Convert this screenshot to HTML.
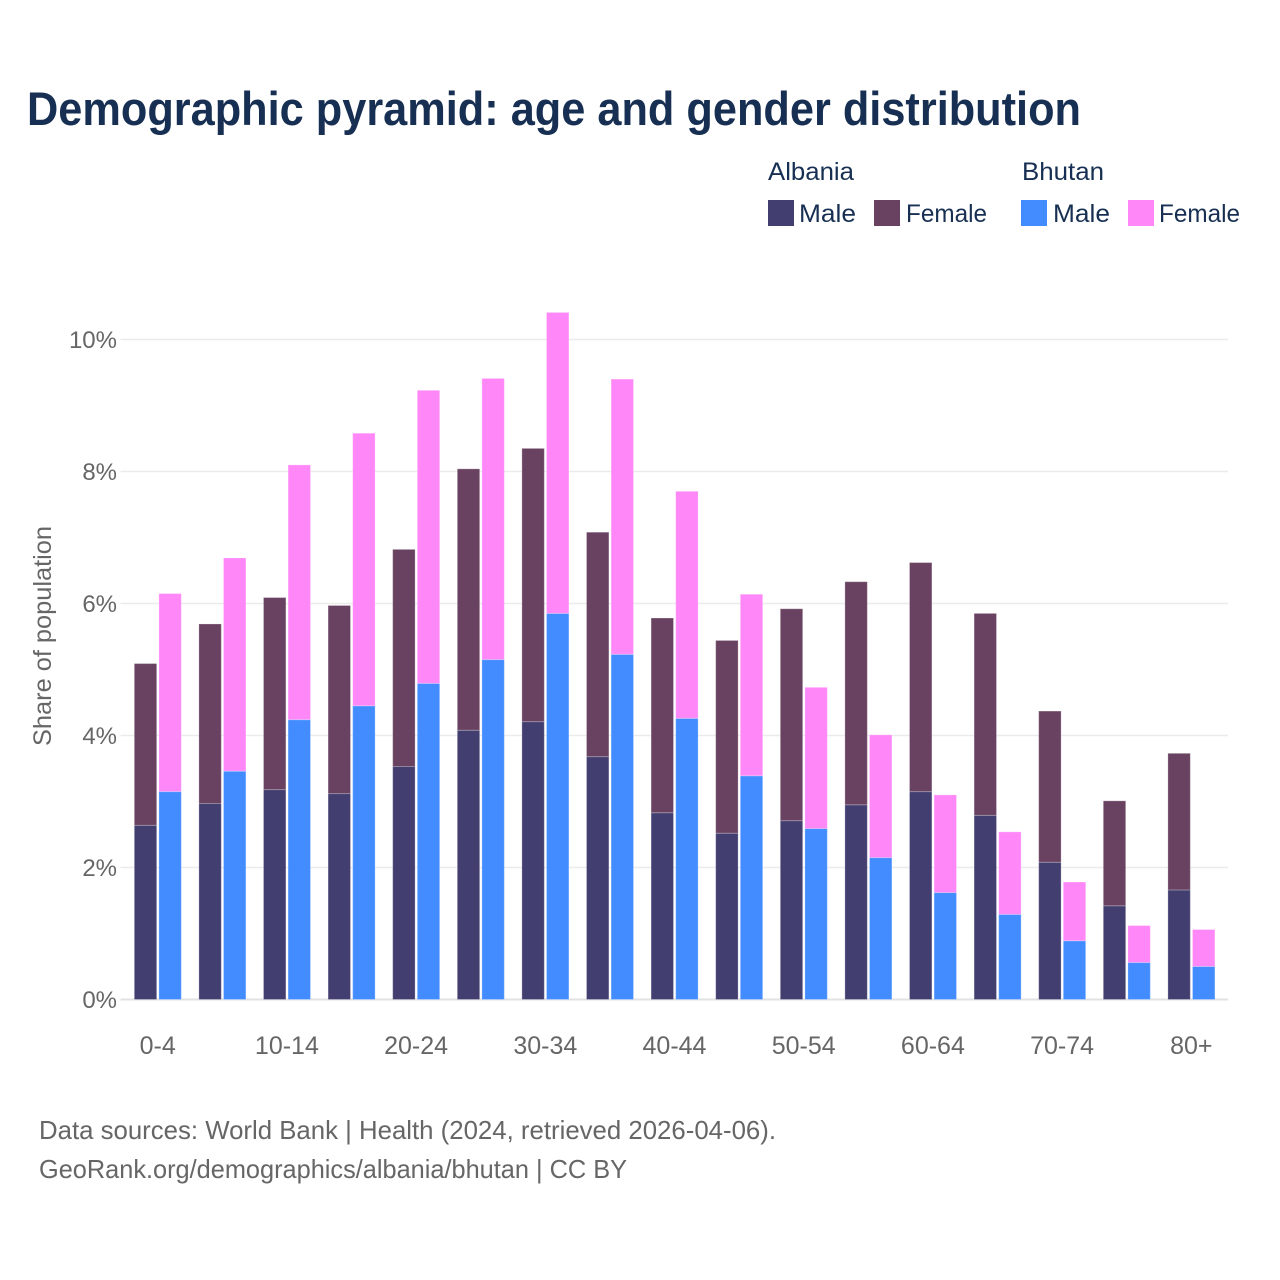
<!DOCTYPE html>
<html lang="en">
<head>
<meta charset="utf-8">
<title>Demographic pyramid: age and gender distribution</title>
<style>
html,body{margin:0;padding:0;background:#fff;width:1280px;height:1280px;overflow:hidden}
svg{display:block}
text{font-family:"Liberation Sans",sans-serif}
.dark{fill:#172f52}
.gray{fill:#666666}
</style>
</head>
<body>
<svg id="chart" xmlns="http://www.w3.org/2000/svg" width="1280" height="1280" viewBox="0 0 1280 1280">
  <rect x="0" y="0" width="1280" height="1280" fill="#ffffff"/>
  <text class="dark" x="27" y="125" font-size="47" font-weight="700" textLength="1054" lengthAdjust="spacingAndGlyphs">Demographic pyramid: age and gender distribution</text>

  <g>
    <text class="dark" x="768" y="180" font-size="25" textLength="86" lengthAdjust="spacingAndGlyphs">Albania</text>
    <text class="dark" x="1022" y="180" font-size="25" textLength="82" lengthAdjust="spacingAndGlyphs">Bhutan</text>
    <rect x="768" y="200" width="26" height="26" fill="#423e70"/>
    <text class="dark" x="799" y="222" font-size="25" textLength="57" lengthAdjust="spacingAndGlyphs">Male</text>
    <rect x="874" y="200" width="26" height="26" fill="#684260"/>
    <text class="dark" x="906" y="222" font-size="25" textLength="81" lengthAdjust="spacingAndGlyphs">Female</text>
    <rect x="1021" y="200" width="26" height="26" fill="#428cff"/>
    <text class="dark" x="1053" y="222" font-size="25" textLength="57" lengthAdjust="spacingAndGlyphs">Male</text>
    <rect x="1128" y="200" width="26" height="26" fill="#ff87f7"/>
    <text class="dark" x="1159" y="222" font-size="25" textLength="81" lengthAdjust="spacingAndGlyphs">Female</text>
  </g>

  <g id="grid"></g>
  <g id="yticks"></g>
  <g id="bars"></g>
  <g id="xticks"></g>

  <text class="gray" transform="translate(51,746) rotate(-90)" x="0" y="0" font-size="25" textLength="220" lengthAdjust="spacingAndGlyphs">Share of population</text>

  <text class="gray" x="39" y="1139" font-size="26" textLength="737" lengthAdjust="spacingAndGlyphs">Data sources: World Bank | Health (2024, retrieved 2026-04-06).</text>
  <text class="gray" x="39" y="1178" font-size="26" textLength="588" lengthAdjust="spacingAndGlyphs">GeoRank.org/demographics/albania/bhutan | CC BY</text>
</svg>
<script>
var categories = ["0-4","5-9","10-14","15-19","20-24","25-29","30-34","35-39","40-44","45-49","50-54","55-59","60-64","65-69","70-74","75-79","80+"];
var albaniaMale = [2.64,2.97,3.18,3.12,3.53,4.08,4.21,3.68,2.83,2.52,2.71,2.95,3.15,2.79,2.08,1.42,1.66];
var albaniaFemale = [2.45,2.72,2.91,2.85,3.29,3.96,4.14,3.40,2.95,2.92,3.21,3.38,3.47,3.06,2.29,1.59,2.07];
var bhutanMale = [3.15,3.46,4.24,4.45,4.79,5.15,5.85,5.23,4.26,3.39,2.59,2.15,1.62,1.29,0.89,0.56,0.50];
var bhutanFemale = [3.00,3.23,3.86,4.13,4.44,4.26,4.56,4.17,3.44,2.75,2.14,1.86,1.48,1.25,0.89,0.56,0.56];
var yTickValues = [0,2,4,6,8,10];
var xTickLabels = ["0-4","10-14","20-24","30-34","40-44","50-54","60-64","70-74","80+"];

var NS = "http://www.w3.org/2000/svg";
function yScale(v) { return 999.5 - v * 66; }
function xScale(i) { return 157.7 + i * 64.6; }
var barWidth = 22.4;

function make(tag, parentId, attrs) {
  var el = document.createElementNS(NS, tag);
  for (var k in attrs) { el.setAttribute(k, attrs[k]); }
  document.getElementById(parentId).appendChild(el);
  return el;
}

yTickValues.forEach(function (v) {
  var line = make("line", "grid", {x1: 120.5, x2: 1228, y1: yScale(v), y2: yScale(v), stroke: v === 0 ? "#e2e2e2" : "#ebebeb", "stroke-width": v === 0 ? 2 : 1.4});
  
  
  var label = make("text", "yticks", {x: 117, y: yScale(v) + 8.5, "font-size": 24, "text-anchor": "end", fill: "#666666"});
  label.textContent = v + "%";
  
  
});

function drawStack(i, left, male, female, maleColor, femaleColor, key) {
  var y0 = yScale(0), y1 = yScale(male), y2 = yScale(male + female);
  var m = make("rect", "bars", {x: left, y: y1, width: barWidth, height: y0 - y1, fill: maleColor, stroke: "#ffffff", "stroke-opacity": 0.25, "stroke-width": 1});
  
  
  var f = make("rect", "bars", {x: left, y: y2, width: barWidth, height: y1 - y2, fill: femaleColor, stroke: "#ffffff", "stroke-opacity": 0.25, "stroke-width": 1});
  
  
}

categories.forEach(function (c, i) {
  var cx = xScale(i);
  drawStack(i, cx - 23.4, albaniaMale[i], albaniaFemale[i], "#423e70", "#684260", "albania");
  drawStack(i, cx + 1.2, bhutanMale[i], bhutanFemale[i], "#428cff", "#ff87f7", "bhutan");
});

xTickLabels.forEach(function (c) {
  var i = categories.indexOf(c);
  var t = make("text", "xticks", {x: xScale(i), y: 1054, "font-size": 25, "text-anchor": "middle", fill: "#666666"});
  t.textContent = c;
  
  
});
</script>
</body>
</html>
